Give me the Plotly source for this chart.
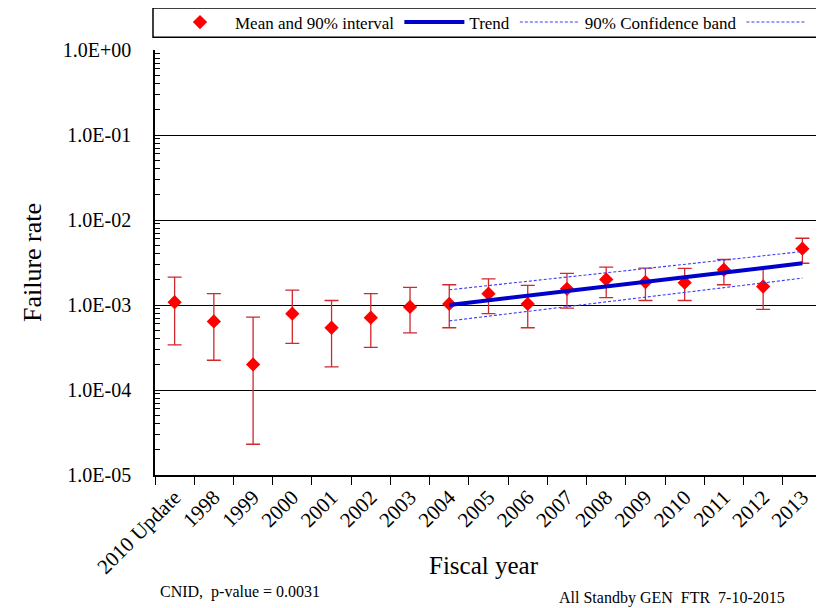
import plotly.graph_objects as go

categories = ["2010 Update", "1998", "1999", "2000", "2001", "2002", "2003", "2004",
              "2005", "2006", "2007", "2008", "2009", "2010", "2011", "2012", "2013"]
mean_vals = [1.08e-3, 6.4e-4, 2.0e-4, 7.9e-4, 5.4e-4, 7.1e-4, 9.5e-4, 1.03e-3,
             1.36e-3, 1.03e-3, 1.55e-3, 2.0e-3, 1.86e-3, 1.83e-3, 2.6e-3, 1.65e-3, 4.6e-3]
upper_vals = [2.13e-3, 1.36e-3, 7.2e-4, 1.50e-3, 1.13e-3, 1.36e-3, 1.61e-3, 1.73e-3,
              2.03e-3, 1.70e-3, 2.35e-3, 2.79e-3, 2.71e-3, 2.69e-3, 3.43e-3, 2.74e-3, 6.1e-3]
lower_vals = [3.4e-4, 2.24e-4, 2.3e-5, 3.54e-4, 1.87e-4, 3.18e-4, 4.7e-4, 5.4e-4,
              7.9e-4, 5.4e-4, 9.2e-4, 1.22e-3, 1.13e-3, 1.13e-3, 1.73e-3, 8.9e-4, 3.1e-3]

trend_years = ["2004", "2005", "2006", "2007", "2008", "2009", "2010", "2011", "2012", "2013"]
trend_vals = [1.00e-3, 1.13e-3, 1.29e-3, 1.46e-3, 1.65e-3, 1.87e-3, 2.13e-3, 2.41e-3, 2.73e-3, 3.10e-3]
band_upper = [1.51e-3, 1.69e-3, 1.90e-3, 2.13e-3, 2.39e-3, 2.69e-3, 3.01e-3, 3.38e-3, 3.79e-3, 4.26e-3]
band_lower = [6.5e-4, 7.4e-4, 8.4e-4, 9.6e-4, 1.09e-3, 1.24e-3, 1.40e-3, 1.60e-3, 1.82e-3, 2.07e-3]

ytick_vals = [1e-5, 1e-4, 1e-3, 1e-2, 1e-1, 1e0]
ytick_text = ["1.0E-05", "1.0E-04", "1.0E-03", "1.0E-02", "1.0E-01", "1.0E+00"]
minor_ytick_vals = [m * 10.0 ** e for e in range(-5, 0) for m in range(2, 10)]

FONT = "Liberation Serif"
RED = "#ff0000"
ERR = "#d0282e"
BLUE = "#0000cc"
DASH = "#3a3aff"

err_plus = [u - m for u, m in zip(upper_vals, mean_vals)]
err_minus = [m - l for m, l in zip(mean_vals, lower_vals)]

fig = go.Figure()
fig.add_trace(go.Scatter(
    x=categories, y=mean_vals, mode="markers", name="Mean and 90% interval",
    marker=dict(symbol="diamond", size=11, color=RED),
    error_y=dict(type="data", symmetric=False, array=err_plus, arrayminus=err_minus,
                 color=ERR, thickness=1.3, width=7),
))
fig.add_trace(go.Scatter(
    x=trend_years, y=trend_vals, mode="lines", name="Trend",
    line=dict(color=BLUE, width=4),
))
fig.add_trace(go.Scatter(
    x=trend_years, y=band_upper, mode="lines", name="90% Confidence band",
    line=dict(color=DASH, width=1.1, dash="3px,2px"),
))
fig.add_trace(go.Scatter(
    x=trend_years, y=band_lower, mode="lines", name=" ",
    line=dict(color=DASH, width=1.1, dash="3px,2px"),
))

# page body has an 8px margin, so the figure is 8px smaller and offset
fig.update_layout(
    width=816, height=600,
    margin=dict(l=147, r=2, t=42, b=133, autoexpand=False),
    paper_bgcolor="white", plot_bgcolor="white",
    font=dict(family=FONT, color="black"),
    showlegend=True,
    legend=dict(orientation="h", x=0.015, xanchor="left", y=1.0647, yanchor="middle",
                font=dict(family=FONT, size=17, color="black"),
                bgcolor="rgba(0,0,0,0)", borderwidth=0, itemwidth=60,
                traceorder="normal"),
    xaxis=dict(
        type="category", categoryorder="array", categoryarray=categories,
        range=[-0.5, len(categories) - 0.5], automargin=False,
        tickson="boundaries", ticks="outside", ticklen=8, tickcolor="black",
        showline=True, linecolor="black", linewidth=1.5,
        showgrid=False, tickangle=-45,
        tickfont=dict(family=FONT, size=21, color="black"),
    ),
    yaxis=dict(
        type="log", range=[-5, 0], automargin=False,
        tickmode="array", tickvals=ytick_vals, ticktext=ytick_text,
        ticks="", showline=True, linecolor="black", linewidth=1.5,
        showgrid=True, gridcolor="black", gridwidth=1,
        zeroline=False, ticklabelstandoff=18,
        minor=dict(tickmode="array", tickvals=minor_ytick_vals, ticks="inside",
                   ticklen=5, tickcolor="black", showgrid=False),
        tickfont=dict(family=FONT, size=20, color="black"),
        title=dict(text="Failure rate", font=dict(family=FONT, size=26, color="black"), standoff=14),
    ),
    shapes=[
        dict(type="line", xref="paper", yref="paper", x0=1, x1=1, y0=0, y1=1,
             line=dict(color="#999999", width=1)),
        dict(type="rect", xref="paper", yref="paper", x0=-0.003, x1=0.999, y0=1.03, y1=1.0988,
             line=dict(color="black", width=1.5), fillcolor="rgba(0,0,0,0)"),
    ],
    annotations=[
        dict(text="Fiscal year", xref="paper", yref="paper", x=0.493, y=-0.212,
             xanchor="center", yanchor="middle", showarrow=False,
             font=dict(family=FONT, size=25, color="black")),
        dict(text="CNID,  p-value = 0.0031", xref="paper", yref="paper", x=0.005, y=-0.275,
             xanchor="left", yanchor="middle", showarrow=False,
             font=dict(family=FONT, size=16, color="black")),
        dict(text="All Standby GEN  FTR  7-10-2015", xref="paper", yref="paper", x=0.948, y=-0.289,
             xanchor="right", yanchor="middle", showarrow=False,
             font=dict(family=FONT, size=16, color="black")),
    ],
)

fig.write_html("out.html")
